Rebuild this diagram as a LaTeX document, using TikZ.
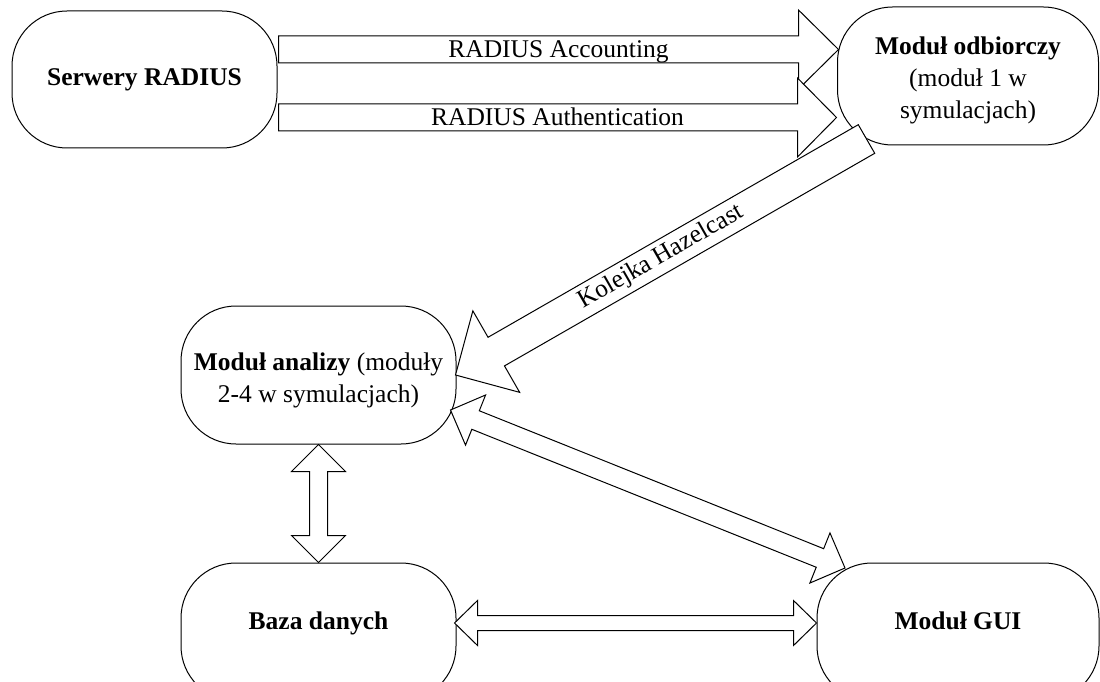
\documentclass[tikz,border=0pt]{standalone}
\usepackage{fontspec}
\setmainfont{Liberation Serif}
\usetikzlibrary{calc}
\tikzset{
  box/.style={draw, line width=1pt, rounded corners=55pt, fill=white, align=center, inner sep=0pt,
    font=\fontsize{25.5pt}{32pt}\selectfont},
  barrow/.style={draw, line width=1pt, fill=white, line join=miter},
  lbl/.style={font=\fontsize{25.5pt}{32pt}\selectfont, inner sep=0pt},
}
\newcommand{\shifted}[2]{\raisebox{#1}[\height][\depth]{\begin{tabular}{@{}c@{}}#2\end{tabular}}}
\newcommand{\blockarrow}[5]{%
  \coordinate (bah) at ($(#2)!#5!(#1)$);
  \draw[barrow] ($(#1)!#3!90:(#2)$) -- ($(bah)!#3!90:(#2)$) -- ($(bah)!#4!90:(#2)$) -- (#2)
    -- ($(bah)!#4!-90:(#2)$) -- ($(bah)!#3!-90:(#2)$) -- ($(#1)!#3!-90:(#2)$) -- cycle;}
\newcommand{\dblarrow}[5]{%
  \coordinate (dah) at ($(#1)!#5!(#2)$);
  \coordinate (dak) at ($(#2)!#5!(#1)$);
  \draw[barrow] (#1) -- ($(dah)!#4!90:(#2)$) -- ($(dah)!#3!90:(#2)$) -- ($(dak)!#3!90:(#2)$)
    -- ($(dak)!#4!90:(#2)$) -- (#2) -- ($(dak)!#4!-90:(#2)$) -- ($(dak)!#3!-90:(#2)$)
    -- ($(dah)!#3!-90:(#2)$) -- ($(dah)!#4!-90:(#2)$) -- cycle;}
\begin{document}
\begin{tikzpicture}[x=1pt, y=-1pt]
\clip (0,0) rectangle (1100,682);
\fill[white] (0,0) rectangle (1100,682);

% nodes
\node[box, minimum width=265pt, minimum height=137pt] (serwery) at (144.5,79.5) {\textbf{Serwery RADIUS}};
\node[box, minimum width=261pt, minimum height=138pt] (odb) at (968,76)
  {\shifted{-4pt}{\textbf{Moduł odbiorczy}\\(moduł 1 w\\symulacjach)}};
\node[box, minimum width=275pt, minimum height=138pt] (analiza) at (318.5,375)
  {\shifted{-5pt}{\textbf{Moduł analizy} (moduły\\2-4 w symulacjach)}};
\node[box, minimum width=275pt, minimum height=138pt] (baza) at (318.5,632)
  {\shifted{9pt}{\textbf{Baza danych}}};
\node[box, minimum width=282pt, minimum height=138pt] (gui) at (958,632)
  {\shifted{9pt}{\textbf{Moduł GUI}}};

% connector end points
\coordinate (acA) at ($(serwery.east)+(1,-30)$);
\coordinate (acB) at ($(odb.west)+(1.5,-26.5)$);
\coordinate (auA) at ($(serwery.east)+(1,38)$);
\coordinate (auB) at ($(odb.west)+(-0.5,41.5)$);
\coordinate (kqA) at ($(odb.center)+(-101.5,63)$);
\coordinate (kqB) at ($(analiza.east)+(-1,0)$);
\coordinate (agA) at ($(analiza.east)+(-6,35)$);
\coordinate (agB) at ($(gui.center)+(-113,-64)$);
\coordinate (abA) at (analiza.south);
\coordinate (abB) at (baza.north);
\coordinate (bgA) at ($(baza.east)+(-2,-9)$);
\coordinate (bgB) at ($(gui.west)+(0,-9)$);

% arrows
\blockarrow{acA}{acB}{13.5pt}{39.5pt}{40pt}
\node[lbl, anchor=base] (lblac) at ($($(acA)!0.5!(acB)$)+(0,8.5)$) {RADIUS Accounting};
\blockarrow{auA}{auB}{13.5pt}{39.5pt}{39pt}
\node[lbl, anchor=base] (lblau) at ($($(auA)!0.5!(auB)$)+(0,8.5)$) {RADIUS Authentication};
\blockarrow{kqA}{kqB}{16.5pt}{47pt}{47pt}
\path (kqB) -- (kqA) node[lbl, midway, sloped] (lblkq) {Kolejka Hazelcast};
\dblarrow{agA}{agB}{10pt}{27pt}{27pt}
\dblarrow{abA}{abB}{9pt}{27pt}{27pt}
\dblarrow{bgA}{bgB}{7.5pt}{22.5pt}{23pt}
\end{tikzpicture}
\end{document}
